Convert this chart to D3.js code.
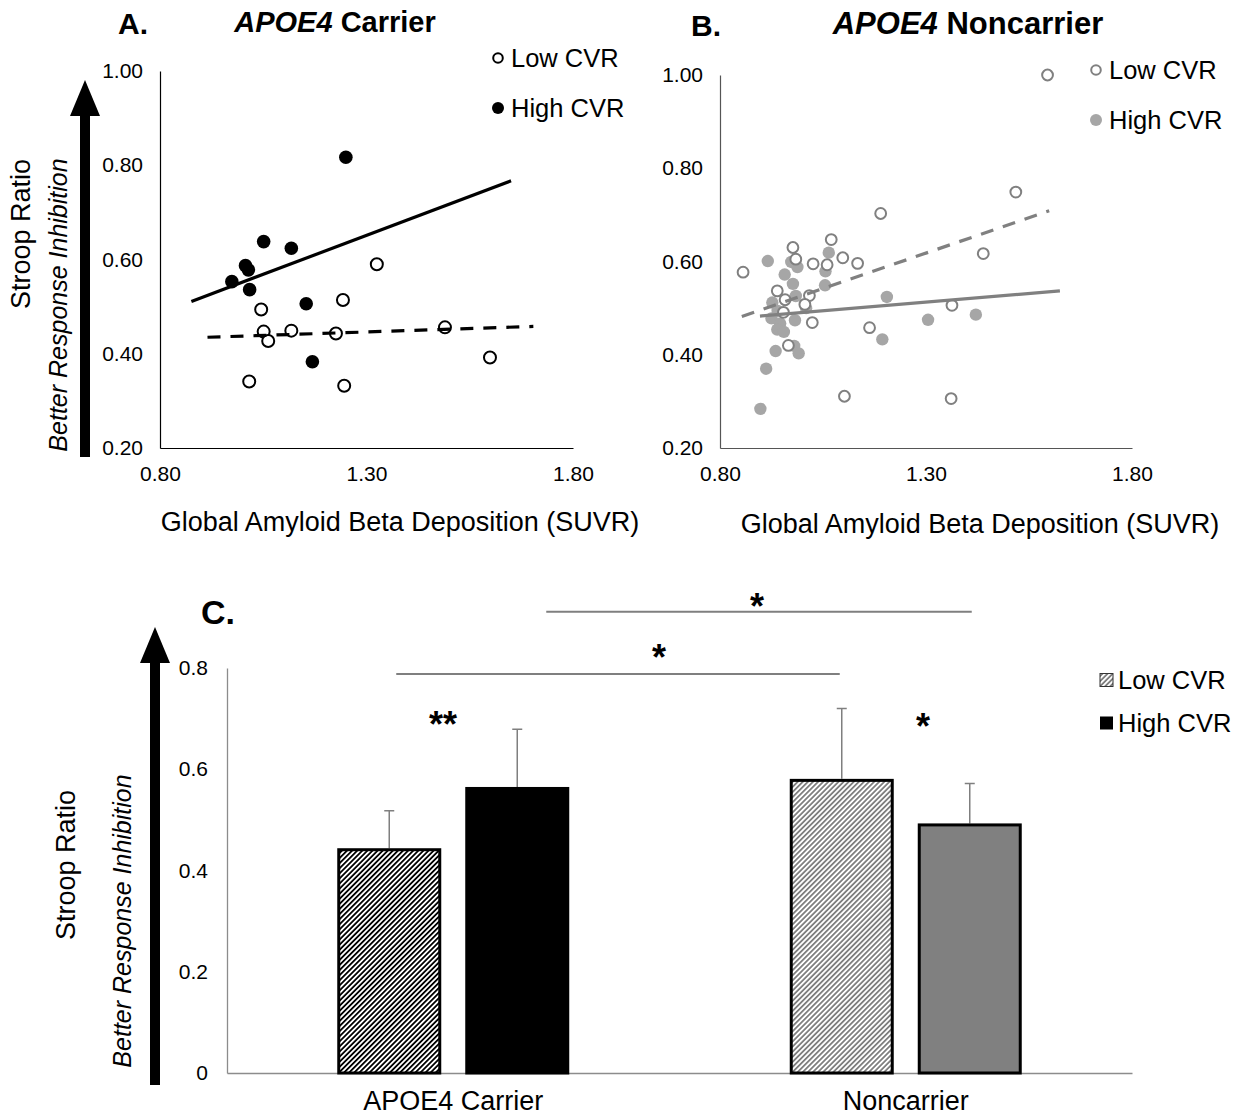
<!DOCTYPE html>
<html>
<head>
<meta charset="utf-8">
<script src="https://cdn.jsdelivr.net/npm/d3@7"></script>
<style>
body { margin: 0; background: #fff; }
text { font-family: Arial, "Liberation Sans", sans-serif; fill: #000; }
</style>
</head>
<body>
<div id="chart"></div>
<script>
// Panel A: APOE4 carriers, [SUVR, Stroop ratio]
var carrierLowCVR = [[1.325,0.590],[1.243,0.514],[1.045,0.494],[1.051,0.447],[1.062,0.427],[1.118,0.449],
  [1.226,0.443],[1.490,0.456],[1.599,0.392],[1.016,0.341],[1.246,0.332]];
var carrierHighCVR = [[1.250,0.817],[1.051,0.638],[1.118,0.624],[1.007,0.587],[1.014,0.578],[0.974,0.553],
  [1.017,0.536],[1.154,0.506],[1.169,0.383]];
var carrierLowFit = [[0.915,0.435],[1.704,0.458]];
var carrierHighFit = [[0.876,0.511],[1.650,0.767]];

// Panel B: APOE4 noncarriers
var noncarrierLowCVR = [[1.595,1.000],[1.518,0.749],[1.190,0.703],[1.070,0.647],[0.977,0.630],[0.984,0.605],
  [1.098,0.608],[1.026,0.595],[1.060,0.593],[1.134,0.596],[1.439,0.617],[0.856,0.577],[0.939,0.537],
  [0.958,0.518],[1.017,0.527],[1.006,0.508],[0.954,0.491],[1.024,0.469],[1.163,0.458],[1.363,0.506],
  [0.966,0.420],[1.102,0.311],[1.361,0.306]];
var noncarrierHighCVR = [[0.916,0.601],[1.064,0.619],[0.973,0.599],[0.988,0.588],[0.957,0.572],[1.056,0.579],
  [0.977,0.552],[1.055,0.549],[0.984,0.526],[1.205,0.524],[0.927,0.512],[0.940,0.494],[1.009,0.500],
  [0.925,0.478],[0.946,0.467],[0.982,0.474],[0.939,0.454],[0.955,0.449],[1.305,0.475],[1.421,0.486],
  [1.194,0.433],[0.980,0.419],[0.991,0.403],[0.935,0.408],[0.912,0.370],[0.898,0.284]];
var noncarrierLowFit = [[0.853,0.482],[1.599,0.709]];
var noncarrierHighFit = [[0.897,0.483],[1.625,0.537]];

var scatterYTicks = [0.2, 0.4, 0.6, 0.8, 1.0];
var scatterXTicks = [0.8, 1.3, 1.8];

// Panel C: bar means and upper error
var groups = ["APOE4 Carrier", "Noncarrier"];
var cvrLevels = ["Low CVR", "High CVR"];
var lowMeans = [0.444, 0.581];
var highMeans = [0.565, 0.493];
var lowErr = [0.074, 0.139];
var highErr = [0.114, 0.079];
var barYTicks = [0, 0.2, 0.4, 0.6, 0.8];

var W = 1248, H = 1119;
var FONT = "Arial, 'Liberation Sans', sans-serif";
var svg = d3.select("#chart").append("svg")
  .attr("width", W).attr("height", H);

// hatch patterns
var defs = svg.append("defs");
function hatch(id, color) {
  var p = defs.append("pattern")
    .attr("id", id)
    .attr("patternUnits", "userSpaceOnUse")
    .attr("width", 3.6).attr("height", 3.6)
    .attr("patternTransform", "rotate(45)");
  p.append("rect").attr("width", 3.6).attr("height", 3.6).attr("fill", "#fff");
  p.append("line").attr("x1", 0.9).attr("y1", 0).attr("x2", 0.9).attr("y2", 3.6)
    .attr("stroke", color).attr("stroke-width", 1.8);
}
hatch("hatchBlack", "#000");
hatch("hatchGray", "#7f7f7f");

// Upward arrow next to y label
function yArrow(x, tip, bottom) {
  svg.append("rect")
    .attr("x", x - 5).attr("y", tip + 30)
    .attr("width", 10).attr("height", bottom - tip - 30)
    .attr("fill", "#000");
  svg.append("path")
    .attr("d", "M" + x + "," + tip + " L" + (x + 15) + "," + (tip + 36) + " L" + (x - 15) + "," + (tip + 36) + "Z")
    .attr("fill", "#000");
}

function yLabel(x1, cy1, x2, cy2) {
  svg.append("text")
    .attr("transform", "translate(" + x1 + "," + cy1 + ") rotate(-90)")
    .attr("text-anchor", "middle")
    .style("font-size", "27px")
    .text("Stroop Ratio");
  svg.append("text")
    .attr("transform", "translate(" + x2 + "," + cy2 + ") rotate(-90)")
    .attr("text-anchor", "middle")
    .style("font-size", "25px")
    .style("font-style", "italic")
    .text("Better Response Inhibition");
}

function title(letter, lx, name, tx, y, size) {
  svg.append("text")
    .attr("x", lx).attr("y", y)
    .attr("text-anchor", "middle")
    .style("font-size", "30px").style("font-weight", "bold")
    .text(letter);
  var t = svg.append("text")
    .attr("x", tx).attr("y", y - 2)
    .attr("text-anchor", "middle")
    .style("font-size", size + "px").style("font-weight", "bold");
  t.append("tspan").style("font-style", "italic").text("APOE4");
  t.append("tspan").text(" " + name);
}

function drawScatter(cfg) {
  var x = d3.scaleLinear().domain([0.8, 1.8]).range([cfg.left, cfg.right]);
  var y = d3.scaleLinear().domain([0.2, 1.0]).range([cfg.bottom, cfg.top]);

  var yAx = svg.append("g")
    .attr("transform", "translate(" + cfg.left + ",0)")
    .call(d3.axisLeft(y).tickValues(scatterYTicks).tickFormat(d3.format(".2f")).tickSize(0).tickPadding(17));
  var xAx = svg.append("g")
    .attr("transform", "translate(0," + cfg.bottom + ")")
    .call(d3.axisBottom(x).tickValues(scatterXTicks).tickFormat(d3.format(".2f")).tickSize(0).tickPadding(18));
  [yAx, xAx].forEach(function(a) {
    a.select(".domain").attr("stroke", cfg.axisColor).attr("stroke-width", 1.2);
    a.selectAll("text").style("font-size", "21px").style("font-family", FONT).attr("fill", "#000");
  });

  var g = svg.append("g");
  g.selectAll(".hi").data(cfg.high).enter().append("circle")
    .attr("cx", function(d) { return x(d[0]); })
    .attr("cy", function(d) { return y(d[1]); })
    .attr("r", cfg.rFill)
    .attr("fill", cfg.fill);
  g.selectAll(".lo").data(cfg.low).enter().append("circle")
    .attr("cx", function(d) { return x(d[0]); })
    .attr("cy", function(d) { return y(d[1]); })
    .attr("r", cfg.r)
    .attr("fill", "#fff")
    .attr("stroke", cfg.stroke).attr("stroke-width", 2);

  var line = d3.line().x(function(d) { return x(d[0]); }).y(function(d) { return y(d[1]); });
  g.append("path").attr("d", line(cfg.lowFit))
    .attr("stroke", cfg.stroke).attr("stroke-width", 3.2).attr("fill", "none")
    .attr("stroke-dasharray", "13,10");
  g.append("path").attr("d", line(cfg.highFit))
    .attr("stroke", cfg.stroke).attr("stroke-width", 3.2).attr("fill", "none");

  // legend
  var lg = svg.append("g").attr("transform", "translate(" + cfg.legX + "," + cfg.legY + ")");
  lg.append("circle").attr("cx", 0).attr("cy", 0).attr("r", 4.8)
    .attr("fill", "#fff").attr("stroke", cfg.stroke).attr("stroke-width", 2);
  lg.append("text").attr("x", 13).attr("y", 0).attr("dy", "0.35em")
    .style("font-size", "25.5px").text("Low CVR");
  lg.append("circle").attr("cx", 0).attr("cy", 50).attr("r", 6).attr("fill", cfg.fill);
  lg.append("text").attr("x", 13).attr("y", 50).attr("dy", "0.35em")
    .style("font-size", "25.5px").text("High CVR");

  svg.append("text")
    .attr("x", cfg.titleX).attr("y", cfg.bottom + cfg.titleDy)
    .attr("text-anchor", "middle")
    .style("font-size", "27px")
    .text("Global Amyloid Beta Deposition (SUVR)");
}

// Panel A
yArrow(85, 80, 457);
yLabel(30, 234, 67, 305);
title("A.", 133, "Carrier", 335, 34, 29);
drawScatter({
  left: 160, right: 573, top: 71, bottom: 448,
  low: carrierLowCVR, high: carrierHighCVR,
  lowFit: carrierLowFit, highFit: carrierHighFit,
  stroke: "#000", fill: "#000", axisColor: "#000", r: 6, rFill: 6.8,
  legX: 498, legY: 58, titleX: 400, titleDy: 83
});

// Panel B
title("B.", 706, "Noncarrier", 968, 36, 31);
drawScatter({
  left: 720, right: 1132, top: 75, bottom: 448,
  low: noncarrierLowCVR, high: noncarrierHighCVR,
  lowFit: noncarrierLowFit, highFit: noncarrierHighFit,
  stroke: "#808080", fill: "#a6a6a6", axisColor: "#555", r: 5.4, rFill: 6.2,
  legX: 1096, legY: 70, titleX: 980, titleDy: 85
});

// Panel C
var cLeft = 227, cRight = 1132, cTop = 668, cBottom = 1073;
yArrow(155, 627, 1085);
yLabel(75, 865, 131, 921);
svg.append("text").attr("x", 218).attr("y", 624)
  .attr("text-anchor", "middle")
  .style("font-size", "34px").style("font-weight", "bold")
  .text("C.");

var yC = d3.scaleLinear().domain([0, 0.8]).range([cBottom, cTop]);
var x0 = d3.scaleBand().domain(groups).range([cLeft, cRight]).padding(0);
var x1 = d3.scaleBand().domain(cvrLevels).range([-116, 116]).paddingInner(0.1875).paddingOuter(0);

var yAxC = svg.append("g")
  .attr("transform", "translate(" + cLeft + ",0)")
  .call(d3.axisLeft(yC).tickValues(barYTicks)
    .tickFormat(function(d) { return d === 0 ? "0" : d.toFixed(1); })
    .tickSize(0).tickPadding(19));
var xAxC = svg.append("g")
  .attr("transform", "translate(0," + cBottom + ")")
  .call(d3.axisBottom(x0).tickSize(0).tickPadding(18));
yAxC.select(".domain").attr("stroke", "#8c8c8c").attr("stroke-width", 1.3);
xAxC.select(".domain").attr("stroke", "#8c8c8c").attr("stroke-width", 1.3);
yAxC.selectAll("text").style("font-size", "21px").style("font-family", FONT).attr("fill", "#000");
xAxC.selectAll("text").style("font-size", "27px").style("font-family", FONT).attr("fill", "#000");

var bars = [];
groups.forEach(function(grp, i) {
  bars.push({group: grp, level: cvrLevels[0], mean: lowMeans[i], err: lowErr[i],
    fill: i === 0 ? "url(#hatchBlack)" : "url(#hatchGray)"});
  bars.push({group: grp, level: cvrLevels[1], mean: highMeans[i], err: highErr[i],
    fill: i === 0 ? "#000" : "#808080"});
});
function barX(d) { return x0(d.group) + x0.bandwidth() / 2 + x1(d.level); }
function barMid(d) { return barX(d) + x1.bandwidth() / 2; }

var bg = svg.append("g");
bg.selectAll(".err").data(bars).enter().append("path")
  .attr("d", function(d) {
    var cx = barMid(d), top = yC(d.mean + d.err);
    return "M" + cx + "," + yC(d.mean) + "V" + top + "M" + (cx - 5) + "," + top + "H" + (cx + 5);
  })
  .attr("stroke", "#7f7f7f").attr("stroke-width", 1.5).attr("fill", "none");
bg.selectAll(".bar").data(bars).enter().append("rect")
  .attr("x", function(d) { return barX(d) + 1.5; })
  .attr("y", function(d) { return yC(d.mean) + 1.5; })
  .attr("width", x1.bandwidth() - 3)
  .attr("height", function(d) { return yC(0) - yC(d.mean) - 1.5; })
  .attr("fill", function(d) { return d.fill; })
  .attr("stroke", "#000").attr("stroke-width", 3);

// significance brackets
var barsByKey = {};
bars.forEach(function(d) { barsByKey[d.group + "|" + d.level] = d; });
var sig = [
  {from: barMid(barsByKey["APOE4 Carrier|Low CVR"]) + 7, to: barMid(barsByKey["Noncarrier|Low CVR"]) - 2, y: 0.788, sx: 659, sy: 670},
  {from: barMid(barsByKey["APOE4 Carrier|High CVR"]) + 29, to: barMid(barsByKey["Noncarrier|High CVR"]) + 2, y: 0.911, sx: 757, sy: 619}
];
function star(x, y, s) {
  svg.append("text").attr("x", x).attr("y", y)
    .attr("text-anchor", "middle")
    .style("font-size", "36px").style("font-weight", "bold")
    .text(s);
}
sig.forEach(function(s) {
  svg.append("line")
    .attr("x1", s.from).attr("x2", s.to)
    .attr("y1", yC(s.y)).attr("y2", yC(s.y))
    .attr("stroke", "#7f7f7f").attr("stroke-width", 2);
  star(s.sx, s.sy, "*");
});
star(443, 737, "**");
star(923, 739, "*");

// legend C
var legC = svg.append("g").attr("transform", "translate(1100,680)");
legC.append("rect").attr("x", 0).attr("y", -6.5).attr("width", 13).attr("height", 13)
  .attr("fill", "url(#hatchGray)").attr("stroke", "#333").attr("stroke-width", 1);
legC.append("text").attr("x", 18).attr("y", 0).attr("dy", "0.35em")
  .style("font-size", "25.5px").text("Low CVR");
legC.append("rect").attr("x", 0).attr("y", 36.5).attr("width", 13).attr("height", 13)
  .attr("fill", "#000");
legC.append("text").attr("x", 18).attr("y", 43).attr("dy", "0.35em")
  .style("font-size", "25.5px").text("High CVR");
</script>
</body>
</html>
